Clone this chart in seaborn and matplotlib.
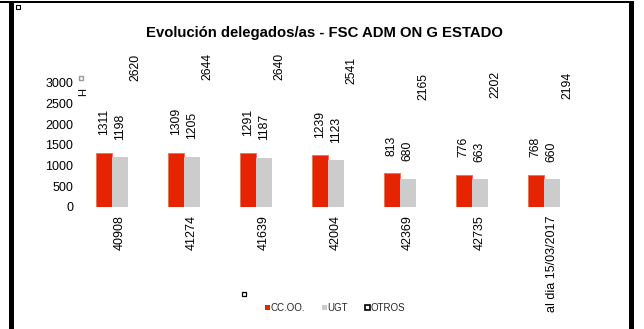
import numpy as np
import pandas as pd
import matplotlib
matplotlib.use("Agg")
import matplotlib.pyplot as plt
import seaborn as sns
from matplotlib.patches import Patch, Rectangle

# Delegate counts per union and date
categories = ["40908", "41274", "41639", "42004", "42369", "42735", "al dia 15/03/2017"]
ccoo = [1311, 1309, 1291, 1239, 813, 776, 768]
ugt = [1198, 1205, 1187, 1123, 680, 663, 660]
otros = [2620, 2644, 2640, 2541, 2165, 2202, 2194]
series = ["CC.OO.", "UGT", "OTROS"]
yticks = [0, 500, 1000, 1500, 2000, 2500, 3000]

RED = "#E62500"
GRAY = "#CCCCCC"
palette = {"CC.OO.": RED, "UGT": GRAY, "OTROS": "#FFFFFF"}

df = pd.DataFrame({
    "fecha": categories * 3,
    "sindicato": np.repeat(series, len(categories)),
    "delegados": ccoo + ugt + otros,
})

sns.set_style("white")
plt.rcParams["font.family"] = ["Liberation Sans", "DejaVu Sans"]

W, H = 644, 329
fig = plt.figure(figsize=(W / 100, H / 100), dpi=100)
fig.patch.set_facecolor("white")

ax = fig.add_axes([83.7 / W, 1 - 206.7 / H, 504 / W, 124 / H])
sns.barplot(data=df, x="fecha", y="delegados", hue="sindicato",
            order=categories, hue_order=series, palette=palette,
            width=2 / 3, gap=0, saturation=1, errorbar=None,
            legend=False, linewidth=0, ax=ax)

# light outline on the red bars
for bar in ax.containers[0]:
    bar.set_edgecolor("#F06A52")
    bar.set_linewidth(0.6)

# rotated value labels above every bar (OTROS bars stay invisible)
for cont in ax.containers:
    ax.bar_label(cont, fmt="%g", rotation=90, padding=12.6, fontsize=8.7,
                 color="black")

ax.set_ylim(0, 3000)
ax.set_yticks(yticks)
ax.set_xlabel("")
ax.set_ylabel("")
sns.despine(ax=ax, left=True, bottom=True)
ax.tick_params(axis="y", length=0, pad=7.5, labelsize=9, labelcolor="black")
ax.tick_params(axis="x", length=0, pad=6, labelsize=9, labelcolor="black",
               labelrotation=90)

fig.text(0.504, 1 - 37 / H, "Evolución delegados/as - FSC ADM ON G ESTADO",
         ha="center", va="baseline", fontsize=10.7, fontweight="bold",
         color="black")

handles = [Patch(facecolor=RED, edgecolor="none"),
           Patch(facecolor=GRAY, edgecolor="none"),
           Patch(facecolor="white", edgecolor="black", linewidth=1.2)]
fig.legend(handles, series, loc="center left",
           bbox_to_anchor=(265 / W, 1 - 308 / H), ncol=3, frameon=False,
           fontsize=7, handlelength=0.5, handleheight=0.5,
           handletextpad=0.05, columnspacing=1.75, borderpad=0,
           borderaxespad=0)

# small stray markers around the chart area
def px_rect(x, y, w, h, **kw):
    fig.add_artist(Rectangle((x / W, 1 - (y + h) / H), w / W, h / H,
                             transform=fig.transFigure, **kw))

px_rect(16, 5, 4, 4, facecolor="white", edgecolor="black", linewidth=0.8)
px_rect(79, 76, 4, 4, facecolor="white", edgecolor="#999999", linewidth=1.0)
px_rect(242, 292, 4, 4, facecolor="white", edgecolor="black", linewidth=0.9)
fig.text(83 / W, 1 - 92 / H, "H", rotation=90, ha="center", va="center",
         fontsize=8, color="black")

# black page frame
px_rect(0, 0.5, 634, 2.5, facecolor="black", edgecolor="none")
px_rect(9, 1, 5, 328, facecolor="black", edgecolor="none")
px_rect(629, 2, 5, 327, facecolor="black", edgecolor="none")

fig.savefig("out.png", dpi=100)
